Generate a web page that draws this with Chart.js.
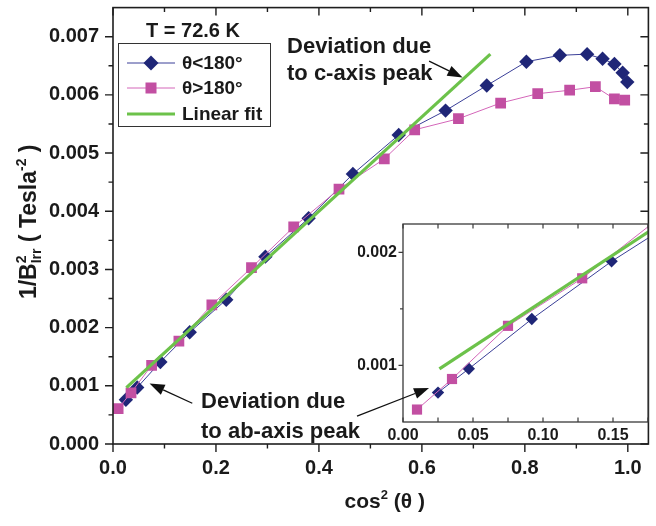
<!DOCTYPE html>
<html><head><meta charset="utf-8">
<script src="https://cdn.jsdelivr.net/npm/chart.js@4"></script>
<style>
html,body{margin:0;padding:0;background:#fff;}
#wrap{position:relative;width:656px;height:526px;}
canvas{position:absolute;left:0;top:0;}
</style></head><body>
<div id="wrap"><canvas id="main" width="656" height="526"></canvas><canvas id="inset" width="656" height="526"></canvas></div>
<script>
// ---- data ----
const blueX = [0.025, 0.047, 0.092, 0.149, 0.220, 0.296, 0.380, 0.466, 0.555, 0.646, 0.726, 0.803, 0.868, 0.921, 0.951, 0.974, 0.990, 0.999];
const blueY = [0.00076, 0.00097, 0.00141, 0.00192, 0.00248, 0.00322, 0.00388, 0.00464, 0.00531, 0.00573, 0.00616, 0.00657, 0.00668, 0.00670, 0.00662, 0.00653, 0.00638, 0.00622];
const pinkX = [0.010, 0.035, 0.075, 0.128, 0.192, 0.269, 0.351, 0.439, 0.527, 0.586, 0.671, 0.753, 0.825, 0.887, 0.937, 0.974, 0.994];
const pinkY = [0.00061, 0.00088, 0.00135, 0.00177, 0.00239, 0.00303, 0.00373, 0.00438, 0.00490, 0.00540, 0.00559, 0.00586, 0.00602, 0.00608, 0.00614, 0.00593, 0.00591];
const fitX = [0.026, 0.733];
const fitY = [0.00097, 0.00670];

const mainXTicks = [0, 0.2, 0.4, 0.6, 0.8, 1.0];
const mainXMinor = [0.1, 0.3, 0.5, 0.7, 0.9];
const mainYTicks = [0, 0.001, 0.002, 0.003, 0.004, 0.005, 0.006, 0.007];
const mainYMinor = [0.0005, 0.0015, 0.0025, 0.0035, 0.0045, 0.0055, 0.0065];
const insetXTicks = [0, 0.05, 0.10, 0.15];
const insetXMinor = [0.025, 0.075, 0.125, 0.175];
const insetYTicks = [0.001, 0.002];
const insetYMinor = [0.0015];

const seriesLabels = ['θ<180°', 'θ>180°', 'Linear fit'];
const tempLabel = 'T = 72.6 K';

// ---- styles ----
const BLUE = '#1f2677', BLUE_L = '#3a3f98';
const PINK = '#c24fa2', PINK_L = '#d466b9';
const GREEN = '#6cc24a';
const AX = '#1e1e1e';
const FONT = "'Liberation Sans', Arial, Helvetica, sans-serif";

Chart.defaults.font.family = FONT;
Chart.defaults.color = '#1a1a1a';

const toXY = (xs, ys) => xs.map((v, i) => ({x: v, y: ys[i]}));

function datasets(big) {
  return [
    {label: seriesLabels[2], data: toXY(fitX, fitY), showLine: true, borderColor: GREEN, borderWidth: 3.2, pointRadius: 0, order: 0},
    {label: seriesLabels[1], data: toXY(pinkX, pinkY), showLine: true, borderColor: PINK_L, borderWidth: 1, pointStyle: 'rect',
      pointRadius: big ? 7.6 : 7.2, pointBackgroundColor: PINK, pointBorderWidth: 0, order: 1},
    {label: seriesLabels[0], data: toXY(blueX, blueY), showLine: true, borderColor: BLUE_L, borderWidth: 1, pointStyle: 'rectRot',
      pointRadius: big ? 7.2 : 6.2, pointBackgroundColor: BLUE, pointBorderWidth: 0, order: 2}
  ];
}

function noPad(s) { s.paddingTop = 0; s.paddingBottom = 0; s.paddingLeft = 0; s.paddingRight = 0; }

function richText(ctx, parts, x, y) {
  let total = 0;
  const ws = parts.map(p => { ctx.font = 'bold ' + p.s + 'px ' + FONT; return ctx.measureText(p.t).width; });
  parts.forEach((p, i) => { if (!p.stack) total += ws[i]; });
  let cx = x - total / 2;
  ctx.textAlign = 'left'; ctx.textBaseline = 'alphabetic';
  parts.forEach((p, i) => {
    ctx.font = 'bold ' + p.s + 'px ' + FONT;
    ctx.fillText(p.t, cx, y + (p.dy || 0));
    if (!p.stack) cx += ws[i];
  });
}

function arrow(ctx, x1, y1, x2, y2) {
  const head = 15, w = 5.5;
  const a = Math.atan2(y2 - y1, x2 - x1);
  const bx = x2 - head * Math.cos(a), by = y2 - head * Math.sin(a);
  ctx.lineWidth = 1.3; ctx.strokeStyle = '#111'; ctx.fillStyle = '#111';
  ctx.beginPath(); ctx.moveTo(x1, y1); ctx.lineTo(bx, by); ctx.stroke();
  ctx.beginPath(); ctx.moveTo(x2, y2);
  ctx.lineTo(bx + w * Math.sin(a), by - w * Math.cos(a));
  ctx.lineTo(bx - w * Math.sin(a), by + w * Math.cos(a));
  ctx.closePath(); ctx.fill();
}

function ticksOn(ctx, scale, vals, len, side, ca) {
  ctx.beginPath();
  vals.forEach(v => {
    const p = scale.getPixelForValue(v);
    if (side === 'bottom') { ctx.moveTo(p, ca.bottom); ctx.lineTo(p, ca.bottom + len); }
    if (side === 'bottomIn') { ctx.moveTo(p, ca.bottom); ctx.lineTo(p, ca.bottom - len); }
    if (side === 'top') { ctx.moveTo(p, ca.top); ctx.lineTo(p, ca.top + len); }
    if (side === 'left') { ctx.moveTo(ca.left, p); ctx.lineTo(ca.left - len, p); }
    if (side === 'right') { ctx.moveTo(ca.right, p); ctx.lineTo(ca.right - len, p); }
  });
  ctx.stroke();
}

const mainFrame = {
  id: 'mainFrame',
  afterDraw(chart) {
    const ctx = chart.ctx, ca = chart.chartArea, xs = chart.scales.x, ys = chart.scales.y;
    ctx.save();
    ctx.strokeStyle = AX; ctx.lineWidth = 1.6;
    ctx.strokeRect(ca.left, ca.top, ca.right - ca.left, ca.bottom - ca.top);
    ctx.lineWidth = 1.4;
    ticksOn(ctx, xs, mainXTicks, 8, 'bottom', ca); ticksOn(ctx, xs, mainXMinor, 4.5, 'bottom', ca);
    ticksOn(ctx, xs, mainXTicks, 8, 'top', ca); ticksOn(ctx, xs, mainXMinor, 4.5, 'top', ca);
    ticksOn(ctx, ys, mainYTicks, 8, 'left', ca); ticksOn(ctx, ys, mainYMinor, 4.5, 'left', ca);
    ticksOn(ctx, ys, mainYTicks, 8, 'right', ca); ticksOn(ctx, ys, mainYMinor, 4.5, 'right', ca);
    ctx.fillStyle = '#1a1a1a';
    // x title
    richText(ctx, [{t: 'cos', s: 21}, {t: '2', s: 13, dy: -9}, {t: ' (θ )', s: 21}], (ca.left + ca.right) / 2 + 4, 508);
    // y title
    ctx.save();
    ctx.translate(36, (ca.top + ca.bottom) / 2 - 4);
    ctx.rotate(-Math.PI / 2);
    richText(ctx, [{t: '1/B', s: 23}, {t: '2', s: 14, dy: -10, stack: true}, {t: 'Irr', s: 14, dy: 5},
      {t: ' ( Tesla', s: 23}, {t: '-2', s: 14, dy: -10}, {t: ' )', s: 23}], 0, 0);
    ctx.restore();
    // legend
    ctx.font = 'bold 20px ' + FONT; ctx.textAlign = 'center'; ctx.textBaseline = 'middle';
    ctx.fillText(tempLabel, 193, 31);
    ctx.fillStyle = '#fff'; ctx.strokeStyle = '#333'; ctx.lineWidth = 1;
    ctx.fillRect(118.5, 43.5, 152, 83); ctx.strokeRect(118.5, 43.5, 152, 83);
    const rows = [63, 88, 114];
    ctx.lineWidth = 1;
    ctx.strokeStyle = BLUE_L; ctx.beginPath(); ctx.moveTo(127, rows[0]); ctx.lineTo(175, rows[0]); ctx.stroke();
    ctx.fillStyle = BLUE; ctx.beginPath(); ctx.moveTo(151, rows[0] - 7.5); ctx.lineTo(158.5, rows[0]); ctx.lineTo(151, rows[0] + 7.5); ctx.lineTo(143.5, rows[0]); ctx.closePath(); ctx.fill();
    ctx.strokeStyle = PINK_L; ctx.beginPath(); ctx.moveTo(127, rows[1]); ctx.lineTo(175, rows[1]); ctx.stroke();
    ctx.fillStyle = PINK; ctx.fillRect(145.5, rows[1] - 5.5, 11, 11);
    ctx.strokeStyle = GREEN; ctx.lineWidth = 3.2; ctx.beginPath(); ctx.moveTo(127, rows[2]); ctx.lineTo(175, rows[2]); ctx.stroke();
    ctx.fillStyle = '#1a1a1a'; ctx.font = 'bold 19px ' + FONT; ctx.textAlign = 'left'; ctx.textBaseline = 'middle';
    seriesLabels.forEach((l, i) => ctx.fillText(l, 182, rows[i] + 1));
    ctx.restore();
  }
};

const mainChart = new Chart(document.getElementById('main'), {
  type: 'scatter',
  data: {datasets: datasets(true)},
  options: {
    responsive: false, animation: false, devicePixelRatio: 1, events: [],
    layout: {padding: {left: 0, right: 1, top: 5, bottom: 0}},
    plugins: {legend: {display: false}, tooltip: {enabled: false}},
    scales: {
      x: {type: 'linear', min: 0, max: 1.04,
        afterFit(s) { s.height = 82; noPad(s); },
        afterBuildTicks(s) { s.ticks = mainXTicks.map(v => ({value: v})); },
        grid: {display: false, drawTicks: false}, border: {display: false},
        ticks: {padding: 12, autoSkip: false, maxRotation: 0, font: {size: 20, weight: 'bold'}, callback: v => Number(v).toFixed(1)}},
      y: {type: 'linear', min: 0, max: 0.0075,
        afterFit(s) { s.width = 113; noPad(s); },
        afterBuildTicks(s) { s.ticks = mainYTicks.map(v => ({value: v})); },
        grid: {display: false, drawTicks: false}, border: {display: false},
        ticks: {padding: 14, autoSkip: false, font: {size: 20, weight: 'bold'}, callback: v => Number(v).toFixed(3)}}
    }
  },
  plugins: [mainFrame]
});

const insetFrame = {
  id: 'insetFrame',
  beforeDraw(chart) {
    const ctx = chart.ctx, ca = chart.chartArea;
    ctx.save(); ctx.fillStyle = '#fff'; ctx.fillRect(ca.left, ca.top, ca.right - ca.left, ca.bottom - ca.top); ctx.restore();
  },
  afterDraw(chart) {
    const ctx = chart.ctx, ca = chart.chartArea, xs = chart.scales.x, ys = chart.scales.y;
    ctx.save();
    ctx.strokeStyle = '#3a3a3a'; ctx.lineWidth = 1.3;
    ctx.strokeRect(ca.left, ca.top, ca.right - ca.left, ca.bottom - ca.top);
    ctx.lineWidth = 1.2;
    ticksOn(ctx, xs, insetXTicks, 4.5, 'bottomIn', ca); ticksOn(ctx, xs, insetXMinor, 4.5, 'bottomIn', ca);
    ticksOn(ctx, xs, insetXTicks, 4.5, 'top', ca); ticksOn(ctx, xs, insetXMinor, 4.5, 'top', ca);
    ticksOn(ctx, ys, insetYTicks, 4.5, 'left', ca); ticksOn(ctx, ys, insetYMinor, 3, 'left', ca);
    const mx = mainChart.scales.x, my = mainChart.scales.y;
    const P = (x, y) => [mx.getPixelForValue(x), my.getPixelForValue(y)];
    ctx.fillStyle = '#1a1a1a'; ctx.font = 'bold 22px ' + FONT; ctx.textAlign = 'left'; ctx.textBaseline = 'middle';
    let p = P(0.338, 0.00682); ctx.fillText('Deviation due', p[0], p[1]);
    p = P(0.338, 0.00636); ctx.fillText('to c-axis peak', p[0], p[1]);
    p = P(0.171, 0.00072); ctx.fillText('Deviation due', p[0], p[1]);
    p = P(0.171, 0.00021); ctx.fillText('to ab-axis peak', p[0], p[1]);
    let a = P(0.614, 0.00658), b = P(0.679, 0.00630); arrow(ctx, a[0], a[1], b[0], b[1]);
    a = P(0.154, 0.00070); b = P(0.071, 0.00104); arrow(ctx, a[0], a[1], b[0], b[1]);
    a = P(0.474, 0.00048);
    b = [xs.getPixelForValue(0.0186), ys.getPixelForValue(0.00080)];
    arrow(ctx, a[0], a[1], b[0], b[1]);
    ctx.restore();
  }
};

new Chart(document.getElementById('inset'), {
  type: 'scatter',
  data: {datasets: datasets(false)},
  options: {
    responsive: false, animation: false, devicePixelRatio: 1, events: [],
    layout: {padding: {left: 358, right: 8, top: 224, bottom: 79}},
    plugins: {legend: {display: false}, tooltip: {enabled: false}},
    scales: {
      x: {type: 'linear', min: 0, max: 0.175,
        afterFit(s) { s.height = 25; noPad(s); },
        afterBuildTicks(s) { s.ticks = insetXTicks.map(v => ({value: v})); },
        grid: {display: false, drawTicks: false}, border: {display: false},
        ticks: {padding: 4, autoSkip: false, maxRotation: 0, font: {size: 16, weight: 'bold'}, callback: v => Number(v).toFixed(2)}},
      y: {type: 'linear', min: 0.0005, max: 0.00225,
        afterFit(s) { s.width = 45; noPad(s); },
        afterBuildTicks(s) { s.ticks = insetYTicks.map(v => ({value: v})); },
        grid: {display: false, drawTicks: false}, border: {display: false},
        ticks: {padding: 6, autoSkip: false, font: {size: 16, weight: 'bold'}, callback: v => Number(v).toFixed(3)}}
    }
  },
  plugins: [insetFrame]
});
</script>
</body></html>
